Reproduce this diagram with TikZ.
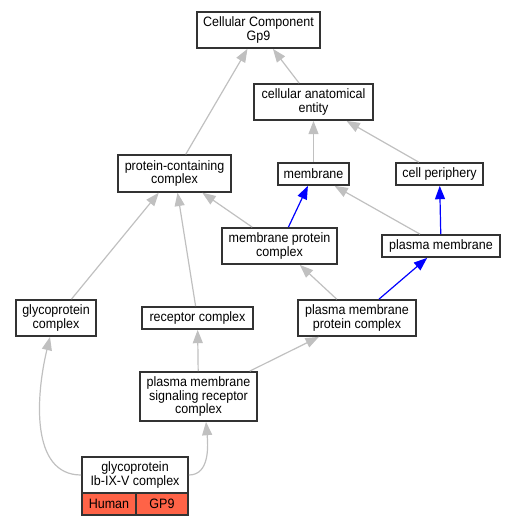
\documentclass[tikz,border=0pt]{standalone}
\usepackage{fontspec}
\setmainfont{Liberation Sans}[FakeStretch=0.92]
\usetikzlibrary{arrows.meta}
\definecolor{edgegray}{HTML}{C0C0C0}
\definecolor{boxline}{HTML}{333333}
\definecolor{tomatored}{HTML}{FF6347}
\begin{document}
\begin{tikzpicture}[x=0.75pt,y=-0.75pt,
  box/.style={draw=boxline,line width=1.3pt,fill=white,inner sep=0pt,align=center,
    font=\fontsize{10.2}{9.9}\selectfont},
  redbox/.style={box,fill=tomatored},
  isa/.style={draw=edgegray,line width=0.9pt,-{Triangle[length=10pt,width=7.5pt]}},
  part/.style={draw=blue,line width=0.9pt,-{Triangle[length=10pt,width=7.5pt]}}]
\useasboundingbox (0,0) rectangle (516,525);
\node[box,minimum width=92.25pt,minimum height=27pt] (cc) at (258.5,30) {Cellular Component\\Gp9};
\node[box,minimum width=89.25pt,minimum height=27pt] (cae) at (313.5,102) {cellular anatomical\\entity};
\node[box,minimum width=84.75pt,minimum height=27.5pt] (pcc) at (174.5,173.5) {protein-containing\\complex};
\node[box,minimum width=53.25pt,minimum height=16.5pt] (mem) at (313.5,174) {membrane};
\node[box,minimum width=65.25pt,minimum height=16.5pt] (cp) at (439.5,174) {cell periphery};
\node[box,minimum width=86.25pt,minimum height=27pt] (mpc) at (279.5,246) {membrane protein\\complex};
\node[box,minimum width=88.5pt,minimum height=16.5pt] (pm) at (441,246) {plasma membrane};
\node[box,minimum width=60pt,minimum height=27pt] (gc) at (56,318) {glycoprotein\\complex};
\node[box,minimum width=83.25pt,minimum height=16.5pt] (rc) at (197.5,318) {receptor complex};
\node[box,minimum width=88.5pt,minimum height=27pt] (pmpc) at (357,318) {plasma membrane\\protein complex};
\node[box,minimum width=87.75pt,minimum height=36.75pt] (pmsrc) at (198.5,396.5) {plasma membrane\\signaling receptor\\complex};
\node[box,minimum width=79.5pt,minimum height=27pt] (gib) at (135,475) {glycoprotein\\Ib-IX-V complex};
\node[redbox,minimum width=40.5pt,minimum height=16.5pt] (hum) at (109,504) {Human};
\node[redbox,minimum width=39pt,minimum height=16.5pt] (gp9) at (162,504) {GP9};

\draw[isa] (pcc) -- (cc);
\draw[isa] (cae) -- (cc);
\draw[isa] (mem) -- (cae);
\draw[isa] (cp) -- (cae);
\draw[isa] (mpc) -- (pcc);
\draw[part] (mpc) -- (mem);
\draw[isa] (pm) -- (mem);
\draw[part] (pm) -- (cp);
\draw[isa] (gc) -- (pcc);
\draw[isa] (rc) -- (pcc);
\draw[isa] (pmpc) -- (mpc);
\draw[part] (pmpc) -- (pm);
\draw[isa] (pmsrc) -- (rc);
\draw[isa] (pmsrc) -- (pmpc);
\draw[isa] (gib.west) .. controls (30,475) and (36,395) .. (gc.south -| 50,0);
\draw[isa] (gib.east) .. controls (210,475) and (208,445) .. (pmsrc.south -| 206,0);
\end{tikzpicture}
\end{document}
